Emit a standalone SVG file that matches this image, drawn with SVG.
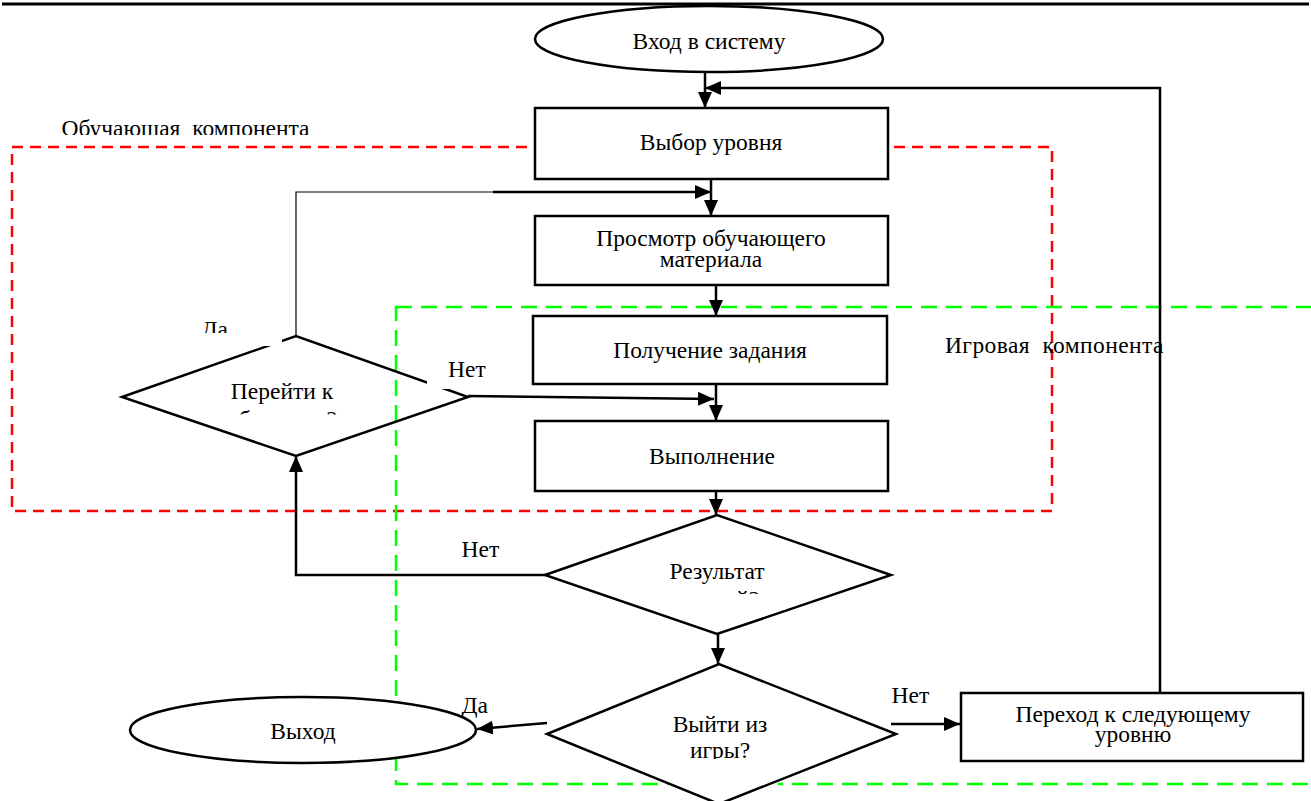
<svg xmlns="http://www.w3.org/2000/svg" width="1311" height="801" viewBox="0 0 1311 801">
  <defs>
    <style>
      text { font-family: "Liberation Serif", "Times New Roman", serif; font-size: 23.5px; fill: #000; }
      .mid { text-anchor: middle; }
      .shape { fill: #fff; stroke: #000; stroke-width: 2.5; }
      .open { fill: none; stroke: #000; stroke-width: 2.5; }
      .edge { fill: none; stroke: #000; stroke-width: 2.5; }
      .thin { fill: none; stroke: #000; stroke-width: 1.2; }
      .zone-learn { fill: none; stroke: #ff0000; stroke-width: 2.5; stroke-dasharray: 11 7; }
      .zone-game { fill: none; stroke: #00ff00; stroke-width: 2.5; stroke-dasharray: 16 9; }
      .mask { fill: #fff; stroke: none; }
    </style>
    <marker id="arrow" viewBox="0 0 16 14" refX="16" refY="7" markerWidth="16" markerHeight="14" markerUnits="userSpaceOnUse" orient="auto">
      <path d="M0,0 L16,7 L0,14 z" fill="#000"/>
    </marker>
    <clipPath id="clip-learn-title"><rect x="0" y="100" width="400" height="35"/></clipPath>
    <clipPath id="clip-yes-top"><rect x="180" y="300" width="100" height="33"/></clipPath>
    <clipPath id="clip-goto"><rect x="150" y="360" width="280" height="54.5"/></clipPath>
    <clipPath id="clip-result"><rect x="600" y="540" width="240" height="54"/></clipPath>
    <clipPath id="clip-quit"><rect x="600" y="700" width="240" height="59"/></clipPath>
  </defs>

  <!-- page header rule -->
  <line x1="2" y1="4" x2="1309" y2="4" stroke="#000" stroke-width="3"/>

  <!-- component zones -->
  <g id="zones">
    <rect class="zone-learn" x="12" y="147" width="1040" height="364"/>
    <rect class="zone-game" x="396" y="307" width="930" height="477"/>
    <text x="61.5" y="136" clip-path="url(#clip-learn-title)" xml:space="preserve">Обучающая  компонента</text>
    <text x="945" y="353" letter-spacing="0.4" xml:space="preserve">Игровая  компонента</text>
  </g>

  <!-- connectors -->
  <g id="connectors">
    <path class="edge" d="M705,72 L705,108" marker-end="url(#arrow)"/>
    <path class="edge" d="M1160,693 L1160,88 L705,88" marker-end="url(#arrow)"/>
    <path class="edge" d="M711,179 L711,216" marker-end="url(#arrow)"/>
    <path class="thin" d="M296,336 L296,192 L493,192"/>
    <path class="edge" d="M493,192 L711,192" marker-end="url(#arrow)"/>
    <path class="edge" d="M716,285 L716,316" marker-end="url(#arrow)"/>
    <path class="edge" d="M716,384 L716,421" marker-end="url(#arrow)"/>
    <path class="edge" d="M468,396 L714,399" marker-end="url(#arrow)"/>
    <path class="edge" d="M716,491 L716,515" marker-end="url(#arrow)"/>
    <path class="edge" d="M545,575 L296,575 L296,456" marker-end="url(#arrow)"/>
    <path class="edge" d="M718,634 L718,664" marker-end="url(#arrow)"/>
    <path class="edge" d="M547,723 L477,729" marker-end="url(#arrow)"/>
    <path class="edge" d="M891,724 L960,724" marker-end="url(#arrow)"/>
  </g>

  <!-- nodes -->
  <g id="start">
    <ellipse class="shape" cx="709" cy="39" rx="174" ry="33"/>
    <text class="mid" x="709" y="49">Вход в систему</text>
  </g>

  <g id="choose-level">
    <rect class="shape" x="535" y="108" width="353" height="71"/>
    <text class="mid" x="711" y="150">Выбор уровня</text>
  </g>

  <g id="study-material">
    <rect class="shape" x="535" y="216" width="353" height="69"/>
    <text class="mid" x="711" y="246">Просмотр обучающего</text>
    <text class="mid" x="711" y="267">материала</text>
  </g>

  <g id="get-task">
    <rect class="shape" x="533" y="316" width="354" height="68"/>
    <text class="mid" x="710" y="358">Получение задания</text>
  </g>

  <g id="execute">
    <rect class="shape" x="535" y="421" width="353" height="70"/>
    <text class="mid" x="712" y="464">Выполнение</text>
  </g>

  <g id="goto-study">
    <polygon class="open" points="122,397 296,336 468,397 296,456"/>
    <g clip-path="url(#clip-goto)">
      <text class="mid" x="282" y="399">Перейти к</text>
      <text class="mid" x="282" y="426.5">обучению?</text>
    </g>
  </g>

  <g id="result-check">
    <polygon class="open" points="545,575 717,515 891,575 717,634"/>
    <g clip-path="url(#clip-result)">
      <text class="mid" x="717" y="579">Результат</text>
      <text class="mid" x="717" y="606.5">верный?</text>
    </g>
  </g>

  <g id="quit-check">
    <rect class="mask" x="668" y="776" width="110" height="14"/>
    <polygon class="open" points="547,734 719,664 896,734 719,804"/>
    <g clip-path="url(#clip-quit)">
      <text class="mid" x="720" y="732">Выйти из</text>
      <text class="mid" x="720" y="758">игры?</text>
    </g>
  </g>

  <g id="exit">
    <ellipse class="shape" cx="303" cy="730" rx="173" ry="33"/>
    <text class="mid" x="303" y="739">Выход</text>
  </g>

  <g id="next-level">
    <rect class="shape" x="961" y="693" width="342" height="68"/>
    <text class="mid" x="1133" y="722">Переход к следующему</text>
    <text class="mid" x="1133" y="742">уровню</text>
  </g>

  <!-- branch labels -->
  <g id="edge-labels">
    <rect class="mask" x="190" y="318" width="92" height="28"/>
    <text x="201.5" y="337" clip-path="url(#clip-yes-top)">Да</text>
    <rect class="mask" x="427" y="355" width="60" height="34"/>
    <text x="448" y="377">Нет</text>
    <text x="461.5" y="557">Нет</text>
    <text x="461.5" y="713">Да</text>
    <text x="891.5" y="703">Нет</text>
  </g>
</svg>
